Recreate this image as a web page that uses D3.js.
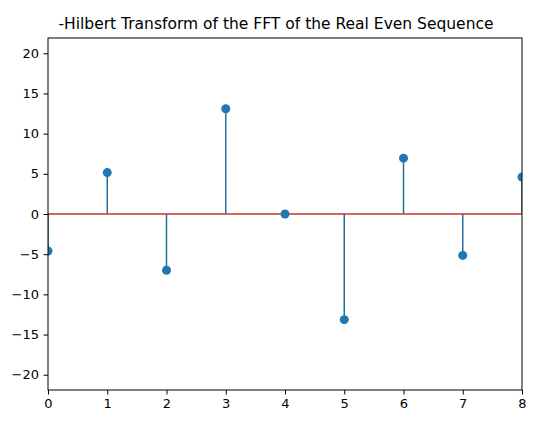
<!DOCTYPE html>
<html>
<head>
<meta charset="utf-8">
<script src="https://cdn.jsdelivr.net/npm/d3@7"></script>
<style>
  body { margin: 0; background: #fff; }
  text { font-family: "DejaVu Sans", sans-serif; fill: #000; }
</style>
</head>
<body>
<div id="chart"></div>
<script>
var title = "-Hilbert Transform of the FFT of the Real Even Sequence";
var indices = [0, 1, 2, 3, 4, 5, 6, 7, 8];
var values = [-4.6, 5.15, -7.0, 13.1, 0.0, -13.15, 6.95, -5.15, 4.6];
var xTicks = [0, 1, 2, 3, 4, 5, 6, 7, 8];
var yTicks = [-20, -15, -10, -5, 0, 5, 10, 15, 20];

var width = 540, height = 426;
var margin = {top: 38, right: 18, bottom: 36, left: 48};

var svg = d3.select('#chart').append('svg')
  .attr('width', width)
  .attr('height', height);

var x = d3.scaleLinear().domain([0, 8]).range([margin.left, width - margin.right]);
var y = d3.scaleLinear().domain([-21.9, 21.9]).range([height - margin.bottom, margin.top]);

// clip marks to the axes box, like matplotlib does
var clipId = 'plotclip';
svg.append('clipPath').attr('id', clipId).append('rect')
  .attr('x', margin.left).attr('y', margin.top)
  .attr('width', width - margin.left - margin.right)
  .attr('height', height - margin.top - margin.bottom);

var plot = svg.append('g').attr('clip-path', 'url(#' + clipId + ')');

// stems
plot.selectAll('line.stem').data(indices).enter().append('line')
  .attr('class', 'stem')
  .attr('x1', function(d) { return x(d); })
  .attr('x2', function(d) { return x(d); })
  .attr('y1', y(0))
  .attr('y2', function(d, i) { return y(values[i]); })
  .attr('stroke', '#23709c')
  .attr('stroke-width', 1.5);

// baseline
plot.append('line')
  .attr('x1', x(0)).attr('x2', x(8))
  .attr('y1', y(0)).attr('y2', y(0))
  .attr('stroke', '#c0392b')
  .attr('stroke-width', 1.5);

// markers
plot.selectAll('circle').data(indices).enter().append('circle')
  .attr('cx', function(d) { return x(d); })
  .attr('cy', function(d, i) { return y(values[i]); })
  .attr('r', 4.5)
  .attr('fill', '#1f77b4');

// axes
var xAxis = d3.axisBottom(x).tickValues(xTicks).tickSize(4.5).tickPadding(4.5)
  .tickFormat(d3.format('d'));
var yAxis = d3.axisLeft(y).tickValues(yTicks).tickSize(4.5).tickPadding(4.5)
  .tickFormat(function(d) { return d < 0 ? '\u2212' + Math.abs(d) : d; });

var gx = svg.append('g').attr('transform', 'translate(0,' + (height - margin.bottom) + ')').call(xAxis);
var gy = svg.append('g').attr('transform', 'translate(' + margin.left + ',0)').call(yAxis);
[gx, gy].forEach(function(g) {
  g.select('.domain').remove();
  g.selectAll('.tick line').attr('stroke', '#000').attr('stroke-width', 1);
  g.selectAll('.tick text').style('font-size', '13px').style('font-family', '"DejaVu Sans", sans-serif');
});

// frame
svg.append('rect')
  .attr('x', margin.left).attr('y', margin.top)
  .attr('width', width - margin.left - margin.right)
  .attr('height', height - margin.top - margin.bottom)
  .attr('fill', 'none')
  .attr('stroke', '#000')
  .attr('stroke-width', 1);

svg.append('text')
  .attr('x', 276)
  .attr('y', margin.top - 9)
  .attr('text-anchor', 'middle')
  .style('font-size', '15.5px')
  .text(title);
</script>
</body>
</html>
